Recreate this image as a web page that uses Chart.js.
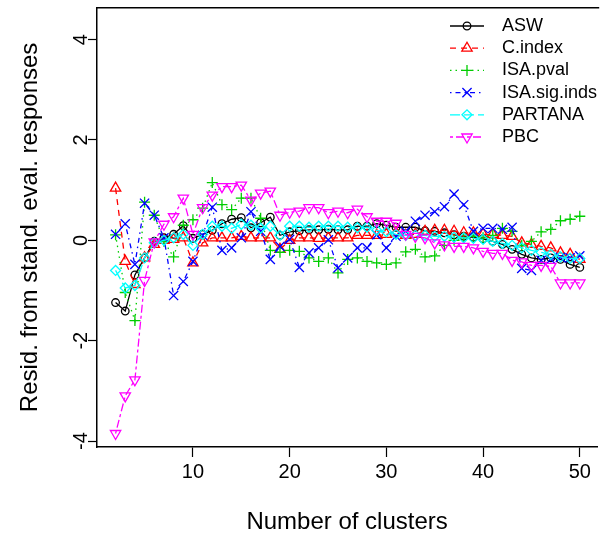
<!DOCTYPE html>
<html>
<head>
<meta charset="utf-8">
<script src="https://cdn.jsdelivr.net/npm/chart.js@4.4.0/dist/chart.umd.min.js"></script>
<style>
  html, body { margin: 0; padding: 0; background: #fff; }
  canvas { display: block; }
</style>
</head>
<body>
<canvas id="clusterChart" width="605" height="541"></canvas>
<script>
// Residuals from the standardised evaluation responses, per number of clusters

const clusters = [2, 3, 4, 5, 6, 7, 8, 9, 10, 11, 12, 13, 14, 15, 16, 17, 18, 19, 20, 21, 22, 23, 24, 25, 26,
                  27, 28, 29, 30, 31, 32, 33, 34, 35, 36, 37, 38, 39, 40, 41, 42, 43, 44, 45, 46, 47, 48, 49, 50];

const asw = [-1.24, -1.41, -0.69, -0.35, -0.02, 0.05, 0.12, 0.29, 0.04, 0.12, 0.2, 0.33, 0.42, 0.45, 0.25, 0.35,
             0.46, 0.1, 0.17, 0.19, 0.21, 0.21, 0.22, 0.21, 0.21, 0.28, 0.28, 0.33, 0.3, 0.26, 0.26, 0.26, 0.19,
             0.18, 0.15, 0.11, 0.08, 0.06, 0.03, -0.02, -0.08, -0.18, -0.28, -0.35, -0.38, -0.35, -0.38, -0.48, -0.54];

const cIndex = [1.04, -0.42, -0.88, -0.35, -0.08, 0.0, 0.02, 0.05, -0.45, -0.05, 0.05, 0.05, 0.05, 0.08, 0.05, 0.05,
                0.05, -0.18, 0.0, 0.05, 0.05, 0.04, 0.05, 0.05, 0.05, 0.1, 0.1, 0.1, 0.12, 0.15, 0.1, 0.12, 0.18,
                0.2, 0.2, 0.18, 0.15, 0.15, 0.12, 0.12, 0.1, 0.08, -0.05, -0.08, -0.12, -0.15, -0.25, -0.28, -0.38];

const isaPval = [0.11, -1.04, -1.6, 0.76, 0.5, -0.02, -0.33, 0.3, 0.41, 0.64, 1.15, 0.71, 0.61, 0.84, 0.84, 0.44,
                 -0.2, -0.24, -0.2, -0.22, -0.35, -0.42, -0.35, -0.65, -0.38, -0.35, -0.42, -0.45, -0.48, -0.45, -0.23,
                 -0.18, -0.33, -0.31, -0.1, 0.0, 0.05, 0.08, 0.05, 0.1, 0.24, 0.18, -0.1, -0.02, 0.17, 0.22, 0.39, 0.42, 0.48];

const isaSigInds = [0.12, 0.33, -0.48, 0.74, 0.5, 0.05, -1.1, -0.82, -0.42, 0.1, 0.66, -0.2, -0.15, 0.05, 0.57, 0.18,
                    -0.38, -0.12, 0.02, -0.54, -0.25, -0.15, 0.01, -0.55, -0.35, -0.15, -0.15, 0.11, -0.15, 0.08, 0.18,
                    0.38, 0.5, 0.57, 0.67, 0.92, 0.71, 0.18, 0.24, 0.24, 0.22, 0.26, -0.56, -0.6, -0.4, -0.38, -0.34, -0.35, -0.31];

const partana = [-0.6, -0.95, -0.9, -0.35, -0.05, 0.0, 0.05, 0.12, -0.1, 0.12, 0.28, 0.28, 0.24, 0.32, 0.3, 0.24,
                 0.28, 0.1, 0.28, 0.28, 0.26, 0.28, 0.28, 0.28, 0.26, 0.25, 0.26, 0.2, 0.17, 0.12, 0.1, 0.1, 0.1,
                 0.08, 0.08, 0.06, 0.05, 0.04, 0.02, -0.02, -0.06, -0.1, -0.15, -0.2, -0.24, -0.28, -0.33, -0.36, -0.36];

const pbc = [-3.85, -3.1, -2.78, -0.8, -0.03, 0.32, 0.47, 0.84, 0.12, 0.65, 0.9, 1.07, 1.07, 1.1, 0.8, 0.94,
             0.98, 0.5, 0.56, 0.58, 0.65, 0.65, 0.55, 0.58, 0.55, 0.62, 0.47, 0.38, 0.38, 0.34, 0.12, 0.08, 0.05,
             -0.05, -0.09, -0.12, -0.12, -0.15, -0.22, -0.26, -0.26, -0.4, -0.43, -0.5, -0.5, -0.52, -0.85, -0.85, -0.85];

const seriesNames = ['ASW', 'C.index', 'ISA.pval', 'ISA.sig.inds', 'PARTANA', 'PBC'];
const seriesValues = [asw, cIndex, isaPval, isaSigInds, partana, pbc];

const xTicks = [10, 20, 30, 40, 50];
const yTicks = [-4, -2, 0, 2, 4];

// look of each series, R style: col 1..6, lty 1..6, pch 1..6
const seriesStyles = [
    { color: '#000000', dash: [],            point: 'circle',   radius: 3.8, rotation: 0 },
    { color: '#ff0000', dash: [6, 5],        point: 'triangle', radius: 6,   rotation: 0 },
    { color: '#00cd00', dash: [1.5, 4],      point: 'cross',    radius: 5.5, rotation: 0 },
    { color: '#0000ff', dash: [1.5, 4, 5, 4], point: 'crossRot', radius: 6.5, rotation: 0 },
    { color: '#00ffff', dash: [10, 4],       point: 'rectRot',  radius: 5,   rotation: 0 },
    { color: '#ff00ff', dash: [3, 3, 8, 3],  point: 'triangle', radius: 6,   rotation: 180 }
];

const FONT = '"Liberation Sans", Arial, Helvetica, sans-serif';

const datasets = seriesValues.map((values, i) => {
    const st = seriesStyles[i];
    return {
        label: seriesNames[i],
        data: values.map((v, k) => ({ x: clusters[k], y: v })),
        borderColor: st.color,
        borderWidth: 1.3,
        borderDash: st.dash,
        pointStyle: st.point,
        pointRadius: st.radius,
        pointRotation: st.rotation,
        pointBorderColor: st.color,
        pointBackgroundColor: 'rgba(0,0,0,0)',
        pointBorderWidth: 1.3,
        tension: 0,
        order: seriesValues.length - 1 - i   // later series painted on top, as in R
    };
});

// box top edge (right edge falls outside the window)
const boxPlugin = {
    id: 'boxTop',
    afterDatasetsDraw(chart) {
        const { ctx, chartArea } = chart;
        ctx.save();
        ctx.strokeStyle = '#000';
        ctx.lineWidth = 1.5;
        ctx.beginPath();
        ctx.moveTo(chartArea.left, chartArea.top);
        ctx.lineTo(chartArea.right + 2, chartArea.top);
        ctx.stroke();
        ctx.restore();
    }
};

// y tick labels turned 90 degrees, like R's las = 0
const yLabelPlugin = {
    id: 'yLabels',
    afterDraw(chart) {
        const { ctx } = chart;
        const y = chart.scales.y;
        ctx.save();
        ctx.fillStyle = '#000';
        ctx.font = '20px ' + FONT;
        ctx.textAlign = 'center';
        ctx.textBaseline = 'middle';
        yTicks.forEach(v => {
            ctx.save();
            ctx.translate(81, y.getPixelForValue(v));
            ctx.rotate(-Math.PI / 2);
            ctx.fillText(v < 0 ? '-' + Math.abs(v) : String(v), 0, 0);
            ctx.restore();
        });
        ctx.restore();
    }
};

// legend without box, line + symbol + name
const legendPlugin = {
    id: 'rLegend',
    afterDraw(chart) {
        const { ctx } = chart;
        chart.data.datasets.forEach((ds, i) => {
            const y = 26 + i * 22.2;
            ctx.save();
            ctx.strokeStyle = ds.borderColor;
            ctx.lineWidth = ds.borderWidth;
            ctx.setLineDash(ds.borderDash);
            ctx.beginPath();
            ctx.moveTo(450, y);
            ctx.lineTo(484, y);
            ctx.stroke();
            ctx.setLineDash([]);
            ctx.fillStyle = 'rgba(0,0,0,0)';
            ctx.lineWidth = ds.pointBorderWidth;
            Chart.helpers.drawPoint(ctx, {
                pointStyle: ds.pointStyle,
                rotation: ds.pointRotation,
                radius: ds.pointRadius,
                borderWidth: ds.pointBorderWidth
            }, 467, y);
            ctx.fillStyle = '#000';
            ctx.font = '18px ' + FONT;
            ctx.textAlign = 'left';
            ctx.textBaseline = 'middle';
            ctx.fillText(ds.label, 502, y);
            ctx.restore();
        });
    }
};

new Chart(document.getElementById('clusterChart'), {
    type: 'line',
    data: { datasets: datasets },
    plugins: [boxPlugin, yLabelPlugin, legendPlugin],
    options: {
        responsive: false,
        animation: false,
        events: [],
        layout: { padding: { top: 5, right: 0, bottom: 0, left: 0 } },
        plugins: {
            legend: { display: false },
            tooltip: { enabled: false }
        },
        scales: {
            x: {
                type: 'linear',
                min: 0.08,
                max: 51.8,
                afterBuildTicks: axis => { axis.ticks = xTicks.map(v => ({ value: v })); },
                afterFit: axis => { axis.height = 94; axis.paddingLeft = 0; axis.paddingRight = 0; },
                grid: { display: true, drawOnChartArea: false, drawTicks: true, tickLength: 10, tickColor: '#000', tickWidth: 1.2 },
                border: { display: true, color: '#000', width: 1.5 },
                ticks: { color: '#000', padding: 3, maxRotation: 0, font: { family: FONT, size: 20 } },
                title: {
                    display: true,
                    text: 'Number of clusters',
                    color: '#000',
                    font: { family: FONT, size: 24 },
                    padding: { top: 0, bottom: 4 }
                }
            },
            y: {
                type: 'linear',
                min: -4.119,
                max: 4.634,
                afterBuildTicks: axis => { axis.ticks = yTicks.map(v => ({ value: v })); },
                afterFit: axis => { axis.width = 97; axis.paddingTop = 0; axis.paddingBottom = 0; },
                grid: { display: true, drawOnChartArea: false, drawTicks: true, tickLength: 9, tickColor: '#000', tickWidth: 1.2 },
                border: { display: true, color: '#000', width: 1.5 },
                ticks: { display: false },
                title: {
                    display: true,
                    text: 'Resid. from stand. eval. responses',
                    color: '#000',
                    font: { family: FONT, size: 24 },
                    padding: { top: 16, bottom: 0 }
                }
            }
        }
    }
});
</script>
</body>
</html>
